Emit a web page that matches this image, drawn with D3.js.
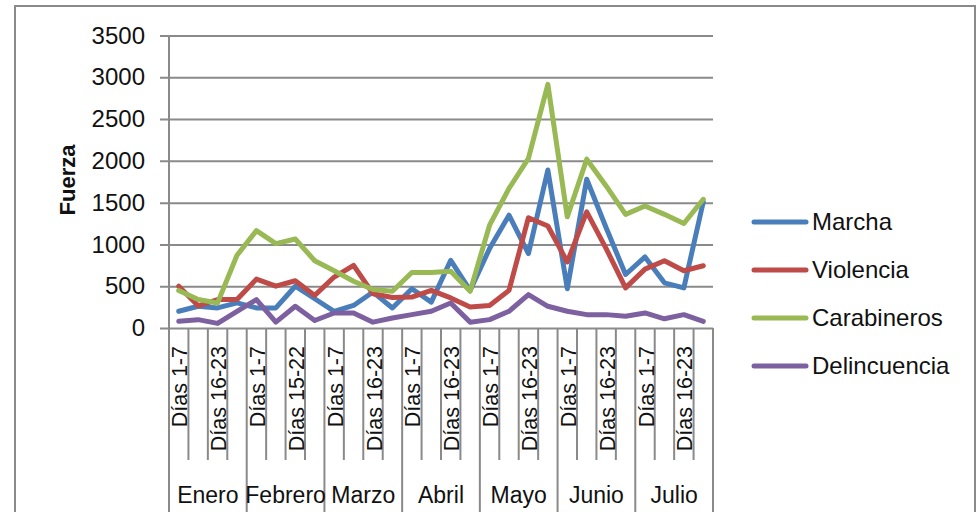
<!DOCTYPE html>
<html><head><meta charset="utf-8">
<script src="https://cdn.jsdelivr.net/npm/d3@7"></script>
<style>
html,body{margin:0;padding:0;background:#fff;}
svg{display:block;font-family:"Liberation Sans",Arial,sans-serif;}
</style></head>
<body><svg id="c" width="976" height="512"></svg>
<script>
const months = ["Enero","Febrero","Marzo","Abril","Mayo","Junio","Julio"];
const periods = [
  ["Días 1-7","Días 8-15","Días 16-23","Días 24-31"],
  ["Días 1-7","Días 8-14","Días 15-22","Días 23-28"],
  ["Días 1-7","Días 8-15","Días 16-23","Días 24-31"],
  ["Días 1-7","Días 8-15","Días 16-23","Días 24-30"],
  ["Días 1-7","Días 8-15","Días 16-23","Días 24-31"],
  ["Días 1-7","Días 8-15","Días 16-23","Días 24-30"],
  ["Días 1-7","Días 8-15","Días 16-23","Días 24-31"]
];
const seriesNames = ["Marcha","Violencia","Carabineros","Delincuencia"];
const marcha = [200,260,240,300,240,240,500,350,200,270,430,240,470,310,810,450,950,1350,890,1890,470,1780,1200,640,850,540,480,1510];
const violencia = [500,265,340,340,585,500,565,390,610,750,410,365,370,450,360,250,270,450,1320,1220,790,1390,950,480,705,805,685,745];
const carabineros = [450,340,300,870,1165,1010,1065,805,685,560,460,440,665,665,680,440,1230,1670,2030,2915,1330,2020,1700,1360,1460,1360,1250,1540];
const delincuencia = [80,100,55,200,340,70,260,90,180,180,70,120,160,200,300,70,100,200,400,260,200,160,160,140,180,110,160,80];
const yTicks = [0,500,1000,1500,2000,2500,3000,3500];
const colors = ["#4A7EBB","#BE4B48","#98B954","#7D60A0"];

const categories = [];
months.forEach((m,mi)=>periods[mi].forEach((p,pi)=>categories.push({id:m+"|"+p, month:m, label:p, idx:pi})));
const values = [marcha,violencia,carabineros,delincuencia];

const svg = d3.select("#c");
const grid = "#8a8a8a";
// outer frame
svg.append("rect").attr("x",15).attr("y",6).attr("width",960).attr("height",530)
  .attr("fill","#fff").attr("stroke","#8a8a8a").attr("stroke-width",2);

const x = d3.scaleBand().domain(categories.map(d=>d.id)).range([169,713]).padding(0);
const y = d3.scaleLinear().domain([0,3500]).range([328,35.5]);
const bw = x.bandwidth();

// y axis w/ gridlines
const ya = svg.append("g").attr("transform","translate(160,0)")
  .call(d3.axisLeft(y).tickValues(yTicks).tickSize(-553).tickPadding(15).tickFormat(d3.format("d")));
ya.select(".domain").remove();
ya.selectAll(".tick line").attr("stroke",grid).attr("stroke-width",2);
ya.selectAll(".tick text").attr("font-size",24).attr("fill","#111").attr("font-family","Liberation Sans, Arial, sans-serif");

// y axis line
svg.append("line").attr("x1",169).attr("x2",169).attr("y1",35.5).attr("y2",328).attr("stroke",grid).attr("stroke-width",2);

// category separators
const bounds = d3.range(categories.length+1);
svg.append("g").selectAll("line").data(bounds).join("line")
  .attr("x1",i=> i<categories.length ? x(categories[i].id) : 713)
  .attr("x2",i=> i<categories.length ? x(categories[i].id) : 713)
  .attr("y1",328)
  .attr("y2",i=> i%4===0 ? 530 : 460)
  .attr("stroke",grid).attr("stroke-width",2);

// sub labels (every other)
svg.append("g").selectAll("text").data(categories.filter(d=>d.idx%2===0)).join("text")
  .attr("transform",d=>`translate(${x(d.id)+bw/2+1},346) rotate(-90)`)
  .attr("text-anchor","end").attr("dy","0.35em")
  .attr("font-size",21.5).attr("fill","#111").text(d=>d.label);

// month labels
svg.append("g").selectAll("text").data(months).join("text")
  .attr("x",(m,mi)=> x(categories[mi*4].id) + bw*2)
  .attr("y",503).attr("text-anchor","middle")
  .attr("font-size",23).attr("fill","#111").text(m=>m);

// y title
svg.append("text").attr("transform","translate(67,180) rotate(-90)")
  .attr("text-anchor","middle").attr("dy","0.35em")
  .attr("font-size",22).attr("font-weight","bold").attr("fill","#111").text("Fuerza");

// lines
const line = d3.line().x((v,i)=>x(categories[i].id)+bw/2).y(v=>y(v));
svg.append("g").selectAll("path").data(values).join("path")
  .attr("d",line).attr("fill","none")
  .attr("stroke",(d,i)=>colors[i]).attr("stroke-width",5)
  .attr("stroke-linejoin","round").attr("stroke-linecap","round");

// legend
const lg = svg.append("g").selectAll("g").data(seriesNames).join("g")
  .attr("transform",(d,i)=>`translate(0,${222+i*48})`);
lg.append("line").attr("x1",754).attr("x2",806).attr("y1",0).attr("y2",0)
  .attr("stroke",(d,i)=>colors[i]).attr("stroke-width",5).attr("stroke-linecap","round");
lg.append("text").attr("x",812).attr("dy","0.35em").attr("font-size",24).attr("fill","#111").text(d=>d);
</script></body></html>
